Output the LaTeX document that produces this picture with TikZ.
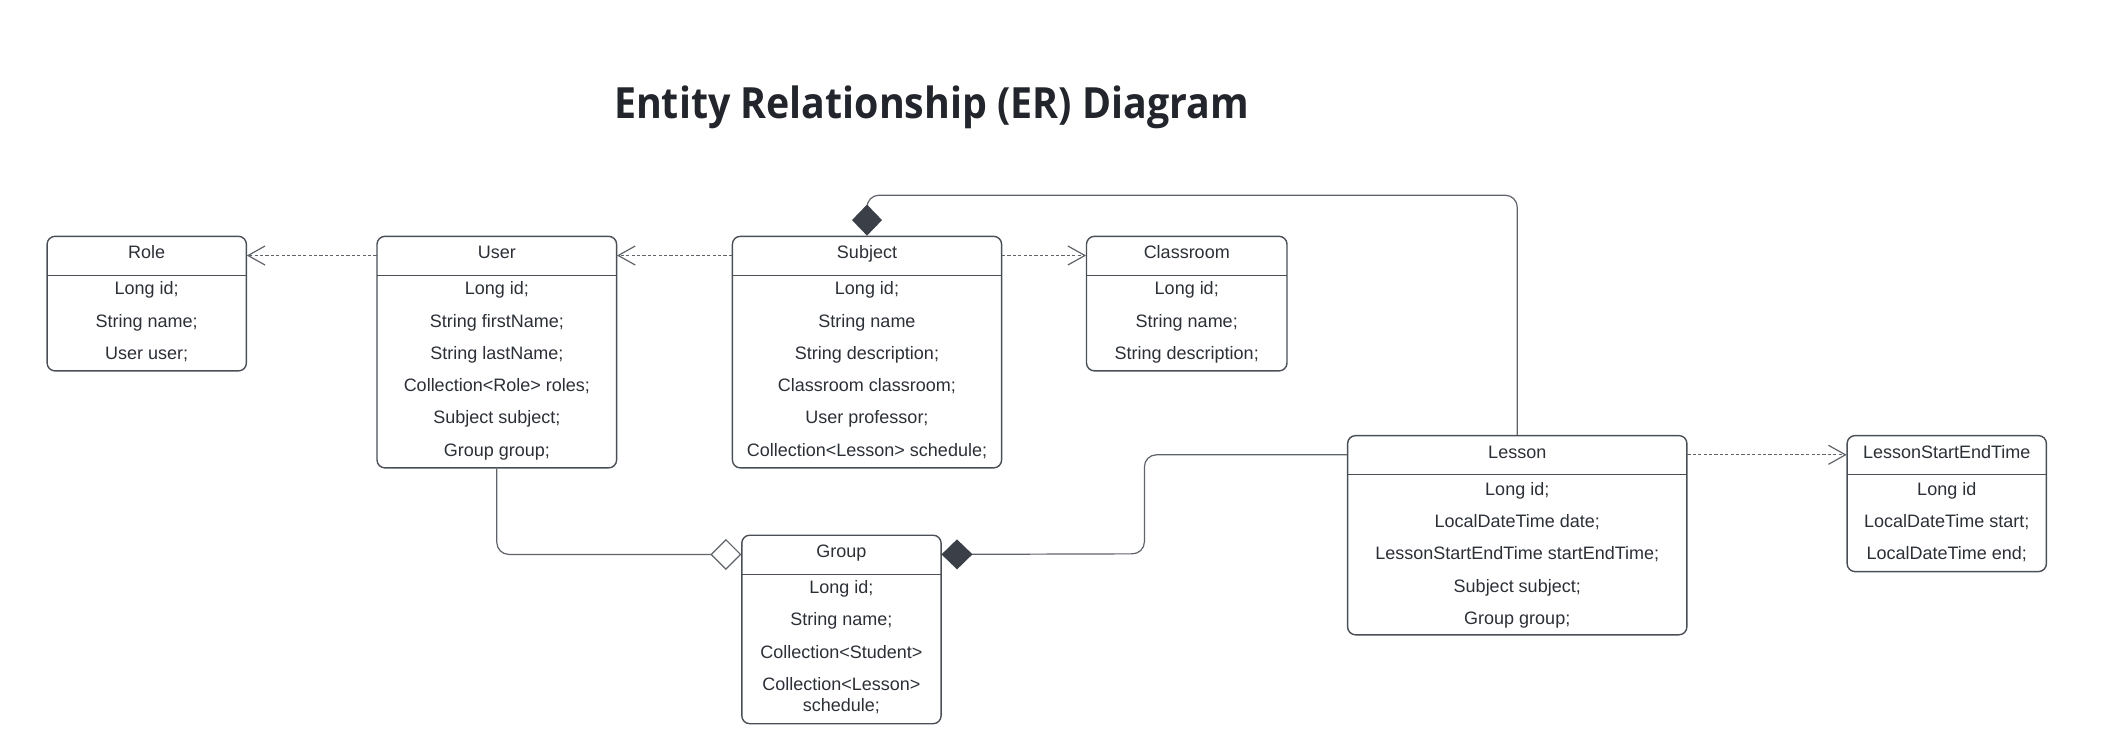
\documentclass[tikz,border=0pt]{standalone}
\usepackage{fontspec}
\setmainfont{Liberation Sans}
\newfontfamily\titlefont{Open Sans}[FakeStretch=0.915]
\usetikzlibrary{arrows.meta}

\definecolor{ink}{HTML}{2B2F36}
\definecolor{edge}{HTML}{4A4E55}
\definecolor{wire}{HTML}{5F636A}
\definecolor{dia}{HTML}{3A3F48}

\tikzset{
  box/.style={draw=edge, line width=0.7pt, rounded corners=4pt, anchor=north, inner sep=0pt},
  head/.style={anchor=north, minimum height=19.5pt, inner sep=0pt, text height=6.5pt, text depth=3.3pt, text=ink, font=\fontsize{9}{11}\selectfont},
  row/.style={text=ink, font=\fontsize{9}{11}\selectfont, inner sep=0pt, text height=6.5pt, text depth=1.9pt, yshift=-1pt, align=center},
  divider/.style={draw=edge, line width=0.7pt},
  dep/.style={draw=wire, line width=0.6pt, dash pattern=on 1.6pt off 1.1pt, -{Straight Barb[length=8.5pt,width=9.5pt]}},
  conn/.style={draw=wire, line width=0.6pt, rounded corners=6pt},
  comp/.style={conn, -{Diamond[length=15.5pt,width=15pt,fill=dia,color=dia]}},
  aggr/.style={conn, -{Diamond[length=15.5pt,width=15.5pt,open,fill=white]}},
  title/.style={text=ink!80!black, font=\titlefont\bfseries\fontsize{21.5}{25}\selectfont}
}

\begin{document}
\begin{tikzpicture}[x=0.5pt, y=-0.5pt]
\useasboundingbox (0,0) rectangle (2111,751);

\node[title] (title) at (931.6,107.5) {Entity Relationship (ER) Diagram};

% Role
\node[box, minimum width=99.65pt, minimum height=67.3pt] (role) at (146.75,235.6) {};
\node[head, minimum width=99.65pt] (roleh) at (role.north) {Role};
\draw[divider] (roleh.south west) -- (roleh.south east);
\node[row] (role1) at (146.75,288.1) {Long id;};
\node[row] (role2) at (146.75,320.4) {String name;};
\node[row] (role3) at (146.75,352.7) {User user;};

% User
\node[box, minimum width=119.8pt, minimum height=115.8pt] (user) at (496.8,235.6) {};
\node[head, minimum width=119.8pt] (userh) at (user.north) {User};
\draw[divider] (userh.south west) -- (userh.south east);
\node[row] (user1) at (496.8,288.1) {Long id;};
\node[row] (user2) at (496.8,320.4) {String firstName;};
\node[row] (user3) at (496.8,352.7) {String lastName;};
\node[row] (user4) at (496.8,385.0) {Collection<Role> roles;};
\node[row] (user5) at (496.8,417.3) {Subject subject;};
\node[row] (user6) at (496.8,449.6) {Group group;};

% Subject
\node[box, minimum width=134.6pt, minimum height=115.8pt] (subject) at (867,235.6) {};
\node[head, minimum width=134.6pt] (subjecth) at (subject.north) {Subject};
\draw[divider] (subjecth.south west) -- (subjecth.south east);
\node[row] (subject1) at (867,288.1) {Long id;};
\node[row] (subject2) at (867,320.4) {String name};
\node[row] (subject3) at (867,352.7) {String description;};
\node[row] (subject4) at (867,385.0) {Classroom classroom;};
\node[row] (subject5) at (867,417.3) {User professor;};
\node[row] (subject6) at (867,449.6) {Collection<Lesson> schedule;};

% Classroom
\node[box, minimum width=100.25pt, minimum height=67.3pt] (classroom) at (1186.75,235.6) {};
\node[head, minimum width=100.25pt] (classroomh) at (classroom.north) {Classroom};
\draw[divider] (classroomh.south west) -- (classroomh.south east);
\node[row] (classroom1) at (1186.75,288.1) {Long id;};
\node[row] (classroom2) at (1186.75,320.4) {String name;};
\node[row] (classroom3) at (1186.75,352.7) {String description;};

% Lesson
\node[box, minimum width=169.65pt, minimum height=99.6pt] (lesson) at (1517.25,434.9) {};
\node[head, minimum width=169.65pt] (lessonh) at (lesson.north) {Lesson};
\draw[divider] (lessonh.south west) -- (lessonh.south east);
\node[row] (lesson1) at (1517.25,488.7) {Long id;};
\node[row] (lesson2) at (1517.25,521.0) {LocalDateTime date;};
\node[row] (lesson3) at (1517.25,553.3) {LessonStartEndTime startEndTime;};
\node[row] (lesson4) at (1517.25,585.6) {Subject subject;};
\node[row] (lesson5) at (1517.25,617.9) {Group group;};

% LessonStartEndTime
\node[box, minimum width=99.65pt, minimum height=68pt] (lset) at (1946.75,434.9) {};
\node[head, minimum width=99.65pt] (lseth) at (lset.north) {LessonStartEndTime};
\draw[divider] (lseth.south west) -- (lseth.south east);
\node[row] (lset1) at (1946.75,488.7) {Long id};
\node[row] (lset2) at (1946.75,521.0) {LocalDateTime start;};
\node[row] (lset3) at (1946.75,553.3) {LocalDateTime end;};

% Group
\node[box, minimum width=99.65pt, minimum height=94.25pt] (group) at (841.45,534.5) {};
\node[head, minimum width=99.65pt] (grouph) at (group.north) {Group};
\draw[divider] (grouph.south west) -- (grouph.south east);
\node[row] (group1) at (841.45,587.0) {Long id;};
\node[row] (group2) at (841.45,619.3) {String name;};
\node[row] (group3) at (841.45,651.6) {Collection<Student>};
\node[row, text height=, text depth=, font=\fontsize{9}{10.75}\selectfont] (group4) at (841.45,693.4) {Collection<Lesson>\\schedule;};

% dependencies
\draw[dep] (userh.west) -- (roleh.east);
\draw[dep] (subjecth.west) -- (userh.east);
\draw[dep] (subjecth.east) -- (classroomh.west);
\draw[dep] (lessonh.east) -- (lseth.west);

% composition / aggregation
\coordinate (over) at (867,195.2);
\coordinate (jog) at (1144.4,553.8);
\draw[comp] (lesson.north) |- (over) -- (subject.north);
\draw[comp] (lessonh.west) -| (jog) -- (grouph.east);
\draw[aggr] (user.south) |- (grouph.west);
\end{tikzpicture}
\end{document}
